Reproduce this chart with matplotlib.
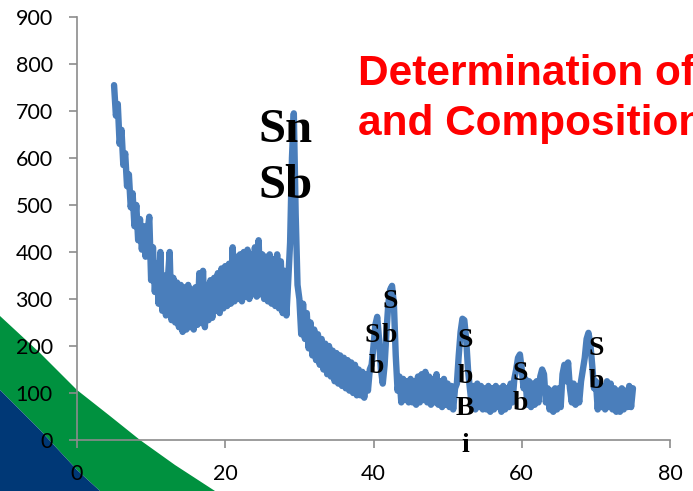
import numpy as np
import matplotlib
matplotlib.use("Agg")
import matplotlib.pyplot as plt
from matplotlib.patches import Polygon

# XRD scan, step 0.25 deg from 5 to 75 (2-theta)
two_theta = np.arange(5.0, 75.001, 0.25)
intensity = [
    755, 690, 715, 630, 660, 585, 610, 540, 565, 495,   # 5.00 - 7.25
    525, 455, 500, 425, 470, 405, 455, 390, 440, 475,   # 7.50 - 9.75
    340, 410, 315, 375, 290, 400, 275, 350, 265, 340,   # 10.00 - 12.25
    400, 255, 345, 250, 335, 240, 330, 230, 325, 235,   # 12.50 - 14.75
    330, 240, 320, 235, 325, 245, 355, 250, 360, 240,   # 15.00 - 17.25
    330, 255, 340, 260, 345, 275, 355, 270, 365, 280,   # 17.50 - 19.75
    370, 285, 375, 290, 410, 295, 390, 300, 395, 295,   # 20.00 - 22.25
    400, 305, 405, 300, 395, 310, 410, 305, 425, 310,   # 22.50 - 24.75
    395, 300, 390, 295, 395, 290, 385, 285, 395, 280,   # 25.00 - 27.25
    380, 270, 360, 265, 340, 420, 600, 695, 480, 330,   # 27.50 - 29.75
    300, 225, 290, 215, 270, 195, 250, 180, 235, 170,   # 30.00 - 32.25
    225, 160, 215, 150, 205, 140, 200, 135, 190, 125,   # 32.50 - 34.75
    185, 120, 180, 115, 175, 110, 170, 105, 165, 100,   # 35.00 - 37.25
    160, 95, 150, 95, 145, 90, 140, 105, 150, 160,      # 37.50 - 39.75
    200, 245, 262, 215, 150, 120, 160, 230, 290, 320,   # 40.00 - 42.25
    328, 290, 180, 105, 135, 80, 130, 85, 125, 80,      # 42.50 - 44.75
    130, 80, 125, 75, 135, 80, 140, 85, 145, 80,        # 45.00 - 47.25
    135, 75, 130, 80, 140, 75, 125, 70, 130, 75,        # 47.50 - 49.75
    120, 70, 115, 65, 110, 120, 180, 230, 258, 255,     # 50.00 - 52.25
    215, 150, 110, 75, 115, 65, 120, 70, 115, 65,       # 52.50 - 54.75
    110, 65, 115, 60, 110, 65, 115, 70, 110, 60,        # 55.00 - 57.25
    115, 65, 110, 70, 120, 80, 130, 150, 175, 182,      # 57.50 - 59.75
    150, 110, 130, 75, 125, 70, 120, 75, 125, 80,       # 60.00 - 62.25
    135, 150, 140, 80, 110, 65, 105, 60, 110, 65,       # 62.50 - 64.75
    110, 70, 140, 160, 125, 165, 110, 80, 120, 75,      # 65.00 - 67.25
    115, 80, 125, 150, 175, 215, 228, 205, 160, 110,    # 67.50 - 69.75
    125, 65, 120, 70, 115, 65, 125, 70, 120, 65,        # 70.00 - 72.25
    110, 60, 105, 60, 110, 65, 105, 70, 115, 70,        # 72.50 - 74.75
    110,                                                # 75.00
]

x_ticks = [0, 20, 40, 60, 80]
y_ticks = [0, 100, 200, 300, 400, 500, 600, 700, 800, 900]

title_lines = ["Determination of", "and Composition"]

# peak labels: (text, x pixel, baseline y pixel, font size)
peak_labels = [
    ("Sn", 258, 142, 35), ("Sb", 258, 198, 35),
    ("S", 372, 342, 20), ("b", 376, 373, 20),
    ("S", 390, 308, 20), ("b", 389, 342, 20),
    ("S", 465, 347, 20), ("b", 465, 383, 20), ("B", 465, 415, 20), ("i", 465, 452, 20),
    ("S", 520, 380, 20), ("b", 520, 410, 20),
    ("S", 596, 355, 20), ("b", 596, 388, 20),
]

W, H = 693, 491
fig = plt.figure(figsize=(W / 100, H / 100), dpi=100)
fig.patch.set_facecolor("white")

# slide decoration in the lower-left corner
bg = fig.add_axes([0, 0, 1, 1], zorder=-1)
bg.set_xlim(0, W)
bg.set_ylim(H, 0)
bg.axis("off")
green = [(0, 316), (40, 353), (77, 390), (110, 416), (140, 440), (175, 465), (215, 491),
         (100, 491), (77, 470), (40, 430), (0, 390)]
blue = [(0, 390), (40, 430), (77, 470), (100, 491), (0, 491)]
bg.add_patch(Polygon(green, closed=True, color="#00913F", lw=0))
bg.add_patch(Polygon(blue, closed=True, color="#003876", lw=0))

ax = fig.add_axes([77 / W, 1 - 440 / H, (670 - 77) / W, (440 - 17) / H])
ax.set_facecolor("none")
ax.plot(two_theta, intensity, color="#4A7EBB", lw=4.6, solid_joinstyle="round",
        solid_capstyle="round")

ax.set_xlim(0, 80)
ax.set_ylim(0, 900)
ax.set_xticks(x_ticks)
ax.set_yticks(y_ticks)
for s in ["top", "right"]:
    ax.spines[s].set_visible(False)
for s in ["left", "bottom"]:
    ax.spines[s].set_color("#8C8C8C")
    ax.spines[s].set_linewidth(1.2)
ax.tick_params(direction="out", length=5.5, width=1.2, color="#8C8C8C",
               labelsize=15.5, pad=12)
for lab in ax.get_xticklabels() + ax.get_yticklabels():
    lab.set_family("Lato")

fig.text(358 / W, 1 - 85 / H, title_lines[0], color="red", fontsize=30.5,
         fontweight="bold", family="Liberation Sans", va="baseline", ha="left")
fig.text(358 / W, 1 - 135 / H, title_lines[1], color="red", fontsize=30.5,
         fontweight="bold", family="Liberation Sans", va="baseline", ha="left")

for txt, px, py, fs in peak_labels:
    ha = "left" if fs > 30 else "center"
    fig.text(px / W, 1 - py / H, txt, fontsize=fs, fontweight="bold",
             family="Liberation Serif", va="baseline", ha=ha, color="black")

fig.savefig("out.png", dpi=100)
